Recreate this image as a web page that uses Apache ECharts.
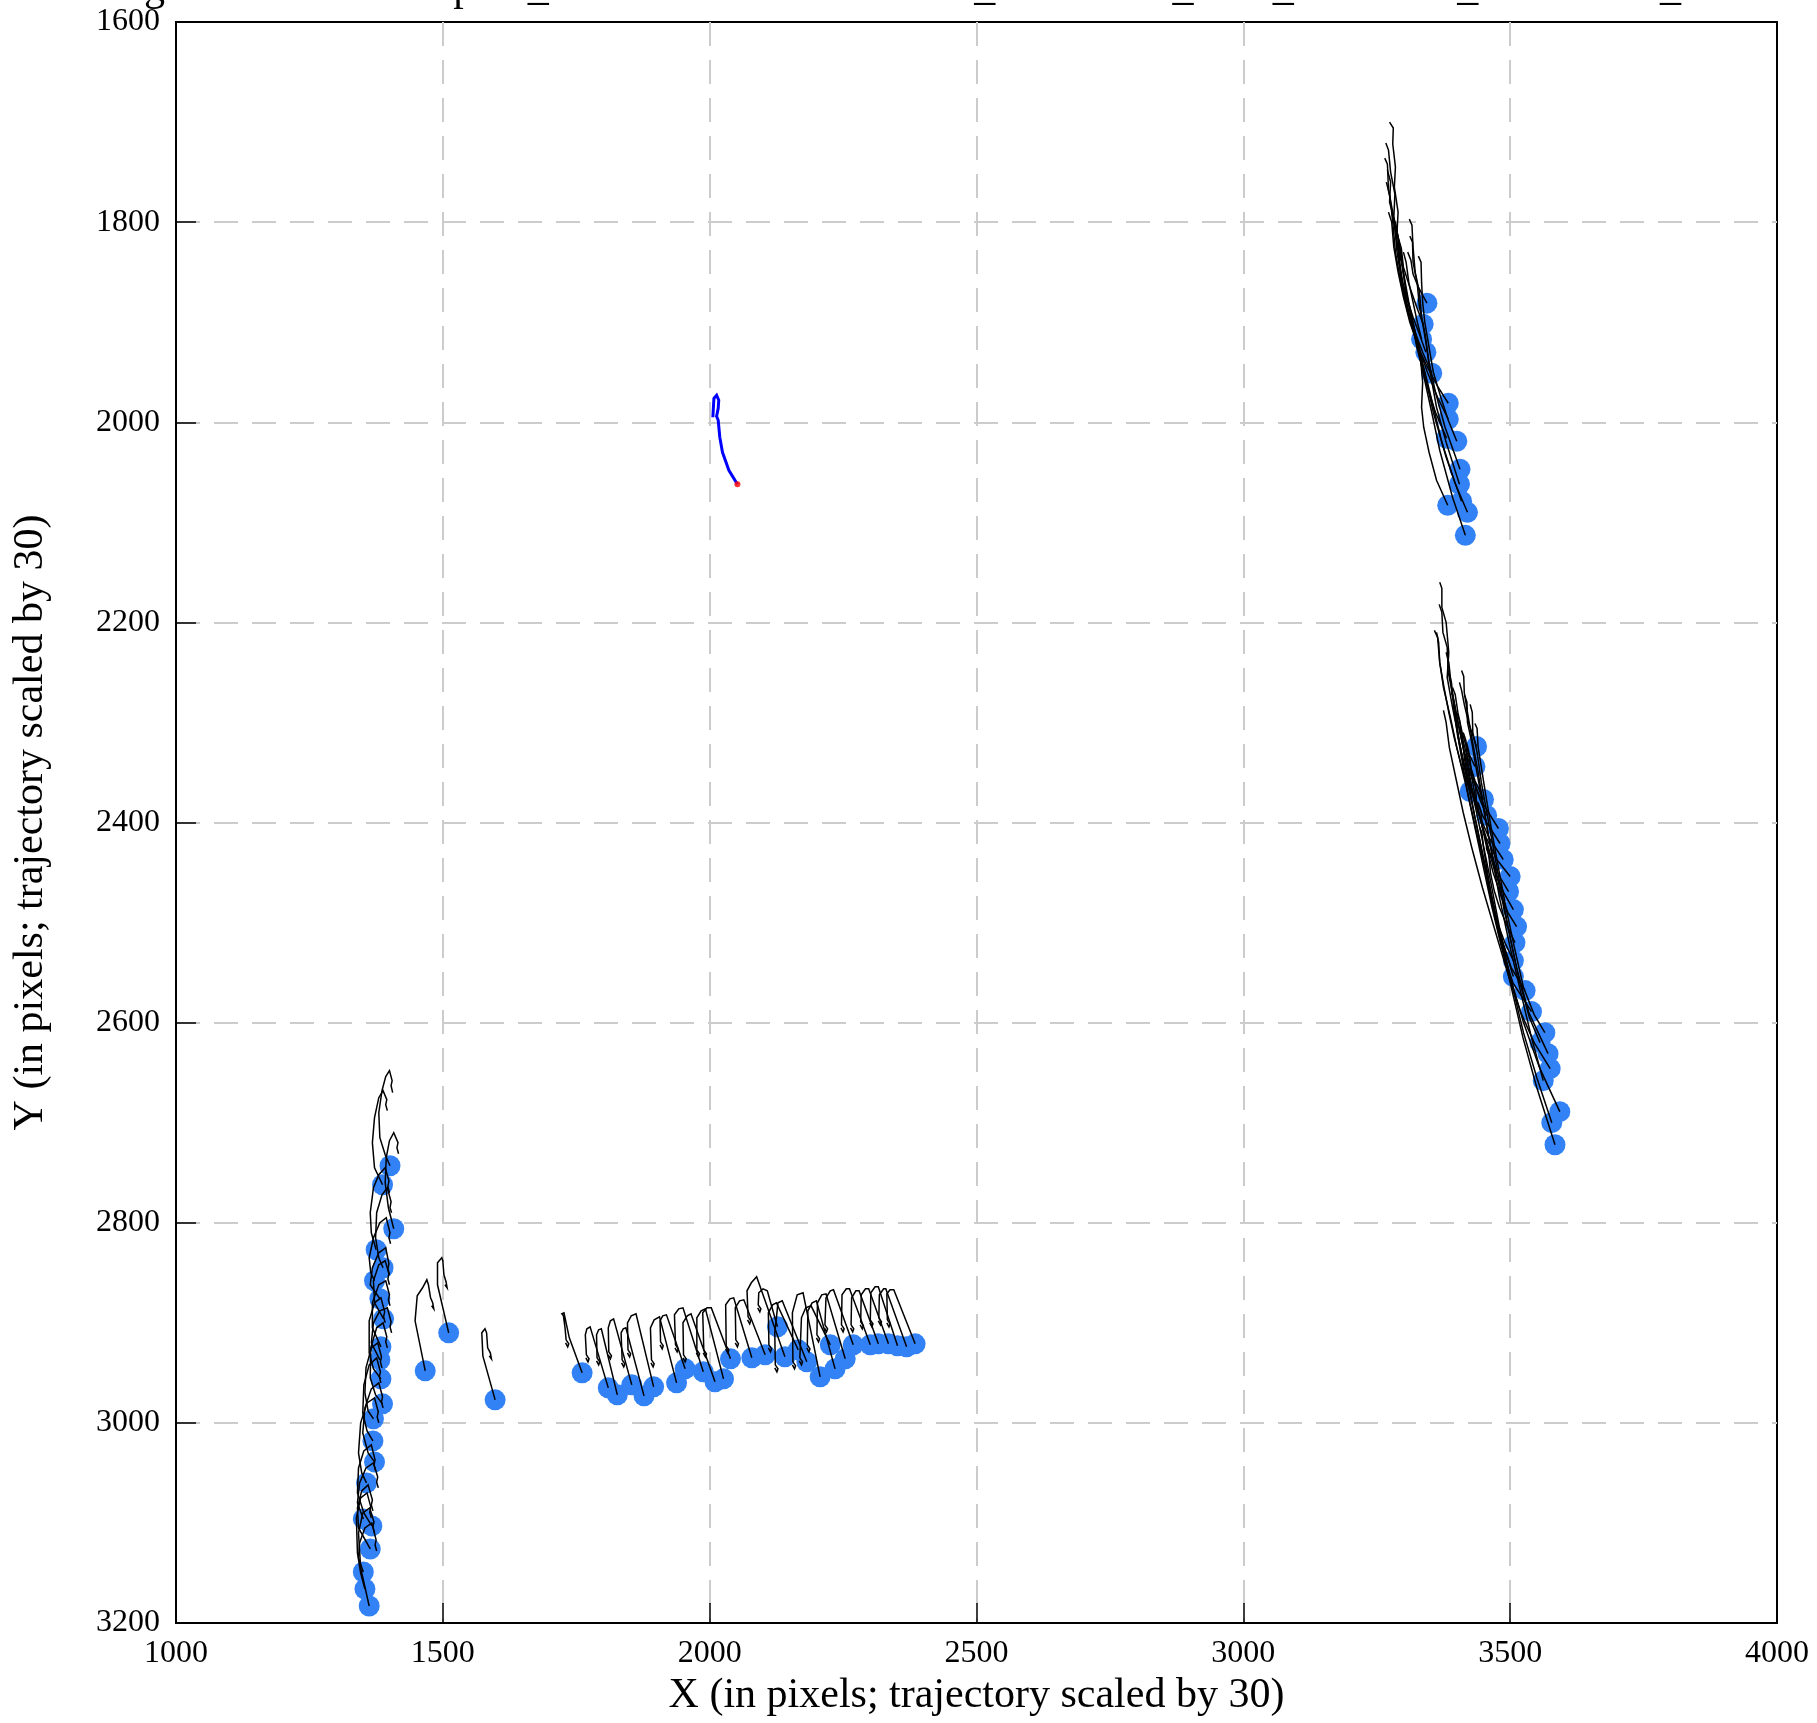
<!DOCTYPE html>
<html><head><meta charset="utf-8">
<script src="https://cdn.jsdelivr.net/npm/echarts@6/dist/echarts.min.js"></script>
<style>html,body{margin:0;padding:0;background:#fff}#c{width:1817px;height:1723px}</style>
</head><body><div id="c"></div>
<script>
const titleText = "Tracking results at time 0 pred_intersection1005Trackers_300frames_obs8_Stride100_frame1000_final";
const xLabel = "X (in pixels; trajectory scaled by 30)";
const yLabel = "Y (in pixels; trajectory scaled by 30)";
const xRange = [1000, 4000, 500];
const yRange = [1600, 3200, 200];

// upper-right group (each trajectory ends at its blue dot)
const trajA = [
 [[3274,1700],[3281,1706],[3280,1722],[3285,1745],[3283,1765],[3290,1790],[3288,1810],[3296,1835],[3305,1870],[3320,1910],[3337,1951],[3355,1995],[3368,2028],[3392,2075],[3416,2113]],
 [[3267,1721],[3272,1728],[3276,1750],[3284,1772],[3282,1795],[3292,1820],[3300,1850],[3310,1880],[3325,1918],[3345,1960],[3372,2020],[3396,2060],[3420,2090]],
 [[3265,1736],[3270,1742],[3272,1768],[3280,1790],[3286,1815],[3298,1845],[3305,1870],[3320,1905],[3335,1940],[3356,1990],[3380,2035],[3409,2079]],
 [[3270,1748],[3276,1760],[3274,1780],[3284,1800],[3290,1830],[3296,1860],[3310,1890],[3330,1925],[3336,1960],[3334,1985],[3338,2005],[3348,2030],[3362,2058],[3383,2083]],
 [[3311,1797],[3316,1803],[3318,1825],[3322,1850],[3330,1870],[3334,1895],[3342,1920],[3350,1950],[3362,1985],[3380,2020],[3405,2062]],
 [[3312,1814],[3317,1820],[3318,1840],[3326,1862],[3330,1885],[3340,1910],[3348,1940],[3360,1970],[3378,2005],[3406,2047]],
 [[3328,1834],[3333,1840],[3334,1860],[3336,1880],[3340,1900],[3348,1925],[3356,1950],[3370,1975],[3384,1998],[3400,2019]],
 [[3312,1898],[3318,1905],[3325,1925],[3335,1945],[3345,1965],[3360,1990],[3381,2016]],
 [[3268,1760],[3275,1775],[3280,1800],[3285,1830],[3295,1860],[3308,1890],[3325,1920],[3345,1950],[3364,1975],[3384,1997]],
 [[3272,1790],[3278,1800],[3282,1825],[3290,1850],[3300,1875],[3312,1900],[3328,1925],[3345,1945],[3365,1965],[3384,1981]],
 [[3285,1800],[3290,1815],[3293,1840],[3300,1865],[3310,1890],[3322,1910],[3336,1930],[3353,1951]],
 [[3278,1790],[3284,1805],[3288,1830],[3296,1855],[3306,1875],[3318,1895],[3330,1912],[3342,1930]],
 [[3300,1830],[3305,1840],[3310,1860],[3318,1880],[3326,1900],[3334,1917]],
 [[3290,1815],[3296,1826],[3300,1845],[3312,1865],[3325,1885],[3337,1902]],
 [[3308,1830],[3314,1838],[3318,1852],[3328,1865],[3344,1881]]
];

// right, lower group
const trajB = [
 [[3368,2160],[3372,2166],[3372,2185],[3380,2200],[3385,2230],[3382,2255],[3392,2285],[3405,2320],[3420,2360],[3440,2410],[3458,2460],[3478,2510],[3500,2560],[3524,2615],[3550,2665],[3584,2722]],
 [[3367,2182],[3372,2190],[3374,2210],[3382,2225],[3384,2250],[3395,2280],[3408,2315],[3425,2360],[3445,2410],[3462,2455],[3480,2505],[3500,2555],[3525,2610],[3550,2655],[3578,2700]],
 [[3358,2208],[3364,2215],[3368,2240],[3375,2265],[3388,2295],[3400,2325],[3418,2365],[3435,2405],[3455,2450],[3475,2500],[3498,2550],[3525,2600],[3555,2645],[3593,2689]],
 [[3409,2248],[3413,2254],[3414,2270],[3420,2290],[3428,2315],[3440,2350],[3452,2390],[3465,2430],[3480,2475],[3500,2525],[3520,2570],[3540,2615],[3562,2658]],
 [[3375,2288],[3380,2300],[3386,2325],[3398,2355],[3412,2390],[3428,2425],[3448,2465],[3470,2505],[3495,2550],[3520,2590],[3545,2620],[3575,2646]],
 [[3415,2273],[3419,2280],[3420,2300],[3428,2320],[3436,2345],[3448,2380],[3460,2415],[3476,2455],[3494,2500],[3512,2545],[3535,2590],[3571,2631]],
 [[3425,2282],[3429,2290],[3430,2310],[3438,2330],[3446,2360],[3458,2395],[3470,2430],[3484,2470],[3500,2515],[3518,2560],[3536,2595],[3556,2620]],
 [[3434,2301],[3438,2306],[3440,2325],[3446,2345],[3455,2375],[3466,2410],[3478,2445],[3492,2485],[3508,2525],[3525,2565],[3545,2592],[3565,2610]],
 [[3395,2290],[3400,2300],[3404,2320],[3412,2345],[3422,2375],[3436,2410],[3450,2445],[3466,2485],[3484,2525],[3505,2560],[3540,2589]],
 [[3405,2305],[3410,2312],[3414,2335],[3422,2360],[3434,2395],[3448,2430],[3464,2470],[3480,2510],[3502,2545],[3528,2568]],
 [[3443,2405],[3447,2410],[3450,2425],[3456,2445],[3464,2470],[3474,2495],[3486,2520],[3506,2554]],
 [[3450,2440],[3455,2447],[3458,2460],[3466,2480],[3476,2500],[3490,2520],[3506,2538]],
 [[3455,2425],[3460,2432],[3463,2450],[3470,2468],[3480,2485],[3494,2503],[3509,2520]],
 [[3440,2380],[3445,2388],[3448,2405],[3456,2425],[3468,2450],[3482,2472],[3496,2490],[3512,2504]],
 [[3430,2355],[3435,2362],[3437,2380],[3446,2400],[3458,2425],[3472,2450],[3488,2470],[3506,2487]],
 [[3420,2330],[3425,2338],[3428,2355],[3436,2378],[3448,2405],[3462,2430],[3478,2452],[3497,2469]],
 [[3412,2310],[3417,2318],[3420,2340],[3428,2365],[3440,2390],[3455,2415],[3475,2437],[3500,2454]],
 [[3390,2270],[3395,2280],[3400,2305],[3410,2335],[3425,2365],[3440,2390],[3460,2415],[3487,2437]],
 [[3385,2250],[3390,2260],[3394,2285],[3402,2315],[3415,2345],[3430,2370],[3450,2395],[3481,2421]],
 [[3380,2230],[3385,2240],[3390,2265],[3400,2295],[3412,2325],[3428,2355],[3450,2382],[3478,2406]],
 [[3418,2320],[3422,2328],[3426,2345],[3434,2362],[3444,2378],[3456,2393]],
 [[3400,2290],[3405,2298],[3410,2315],[3420,2335],[3434,2358],[3450,2377]],
 [[3362,2210],[3366,2220],[3368,2240],[3376,2265],[3385,2290],[3395,2315],[3408,2342],[3425,2369]],
 [[3392,2265],[3397,2272],[3402,2290],[3410,2310],[3420,2328],[3434,2344]],
 [[3405,2260],[3409,2268],[3414,2282],[3422,2300],[3437,2324]]
];

// left vertical group
const trajC = [
 [[1406,2670],[1403,2663],[1405,2658],[1400,2648],[1393,2654],[1386,2668],[1380,2690],[1382,2715],[1392,2732],[1401,2743]],
 [[1396,2688],[1393,2682],[1395,2677],[1388,2668],[1380,2675],[1372,2695],[1368,2720],[1372,2745],[1387,2762]],
 [[1417,2731],[1414,2725],[1416,2720],[1408,2710],[1400,2718],[1394,2735],[1392,2760],[1398,2785],[1408,2806]],
 [[1400,2770],[1397,2764],[1399,2758],[1392,2745],[1380,2752],[1370,2765],[1364,2790],[1366,2810],[1375,2827]],
 [[1404,2790],[1401,2785],[1403,2779],[1396,2765],[1386,2772],[1376,2790],[1374,2815],[1380,2835],[1388,2845]],
 [[1402,2821],[1399,2815],[1401,2810],[1394,2795],[1382,2800],[1370,2815],[1362,2835],[1365,2850],[1372,2858]],
 [[1400,2852],[1397,2846],[1399,2841],[1393,2825],[1380,2830],[1368,2845],[1364,2862],[1382,2876]],
 [[1400,2862],[1397,2856],[1399,2851],[1392,2838],[1380,2842],[1370,2858],[1372,2880],[1389,2896]],
 [[1401,2883],[1398,2877],[1400,2872],[1393,2858],[1380,2862],[1368,2880],[1368,2905],[1384,2924]],
 [[1404,2910],[1401,2904],[1403,2899],[1396,2885],[1382,2888],[1370,2900],[1366,2920],[1382,2937]],
 [[1392,2900],[1389,2894],[1391,2889],[1384,2875],[1372,2880],[1362,2898],[1362,2930],[1370,2946],[1384,2956]],
 [[1396,2925],[1393,2919],[1395,2914],[1388,2900],[1376,2905],[1365,2925],[1364,2955],[1374,2972],[1387,2981]],
 [[1386,2945],[1383,2939],[1385,2934],[1378,2920],[1366,2925],[1356,2945],[1354,2970],[1360,2988],[1370,2996]],
 [[1384,2960],[1381,2954],[1383,2949],[1376,2935],[1362,2942],[1352,2962],[1350,2990],[1358,3008],[1369,3018]],
 [[1388,2985],[1385,2979],[1387,2974],[1380,2960],[1366,2966],[1354,2985],[1350,3010],[1360,3030],[1372,3039]],
 [[1380,3000],[1377,2994],[1379,2989],[1372,2975],[1358,2980],[1346,3000],[1342,3030],[1348,3050],[1357,3060]],
 [[1379,3065],[1376,3059],[1378,3054],[1370,3040],[1356,3045],[1344,3060],[1340,3080],[1351,3096]],
 [[1374,3048],[1371,3042],[1373,3037],[1366,3022],[1352,3028],[1342,3045],[1340,3070],[1352,3090],[1367,3103]],
 [[1369,3088],[1366,3082],[1368,3077],[1360,3062],[1348,3068],[1340,3085],[1342,3105],[1364,3126]],
 [[1376,3128],[1373,3122],[1375,3117],[1367,3100],[1354,3105],[1344,3120],[1342,3135],[1351,3149]],
 [[1366,3095],[1363,3089],[1365,3084],[1358,3070],[1346,3075],[1338,3095],[1340,3130],[1346,3150],[1354,3166]],
 [[1372,3110],[1369,3104],[1371,3099],[1363,3085],[1350,3090],[1342,3110],[1346,3145],[1362,3183]]
];

// three isolated tracks
const trajM = [
 [[1479,2883],[1483,2886],[1481,2880],[1477,2875],[1473,2862],[1470,2857],[1462,2865],[1452,2873],[1448,2898],[1467,2948]],
 [[1504,2862],[1508,2865],[1506,2859],[1502,2852],[1500,2838],[1498,2835],[1490,2840],[1490,2862],[1511,2910]],
 [[1587,2933],[1591,2936],[1589,2930],[1584,2925],[1582,2910],[1579,2906],[1573,2910],[1575,2933],[1598,2977]]
];

// bottom horizontal group
const trajD = [
 [[1730,2920],[1734,2924],[1736,2921],[1731,2917],[1729,2905],[1726,2893],[1723,2891],[1727,2890],[1737,2915],[1761,2950]],
 [[1768,2935],[1772,2939],[1774,2936],[1769,2932],[1767,2912],[1770,2906],[1776,2904],[1810,2965]],
 [[1788,2938],[1792,2942],[1794,2939],[1789,2935],[1788,2912],[1792,2907],[1797,2906],[1827,2972]],
 [[1810,2932],[1814,2936],[1816,2933],[1811,2929],[1810,2905],[1814,2898],[1820,2896],[1854,2962]],
 [[1835,2940],[1839,2944],[1841,2941],[1836,2937],[1834,2910],[1838,2906],[1843,2905],[1877,2973]],
 [[1846,2930],[1850,2934],[1852,2931],[1847,2927],[1846,2900],[1853,2893],[1862,2891],[1895,2964]],
 [[1890,2940],[1894,2944],[1896,2941],[1891,2937],[1889,2905],[1896,2897],[1906,2894],[1938,2960]],
 [[1907,2922],[1911,2926],[1913,2923],[1908,2919],[1907,2898],[1912,2893],[1919,2892],[1954,2946]],
 [[1935,2925],[1939,2929],[1941,2926],[1936,2922],[1934,2892],[1942,2886],[1950,2885],[1988,2949]],
 [[1950,2935],[1954,2939],[1956,2936],[1951,2932],[1950,2900],[1958,2893],[1965,2891],[2010,2959]],
 [[1975,2930],[1979,2934],[1981,2931],[1976,2927],[1976,2895],[1984,2888],[1992,2886],[2026,2956]],
 [[1988,2930],[1992,2934],[1994,2931],[1989,2927],[1987,2890],[1995,2885],[2003,2885],[2039,2936]],
 [[2030,2926],[2034,2930],[2036,2927],[2031,2923],[2030,2882],[2038,2876],[2045,2875],[2079,2935]],
 [[2048,2920],[2052,2924],[2054,2921],[2049,2917],[2048,2885],[2056,2878],[2064,2877],[2104,2932]],
 [[2090,2885],[2094,2889],[2096,2886],[2091,2882],[2092,2870],[2100,2866],[2108,2868],[2127,2904]],
 [[2071,2897],[2075,2901],[2077,2898],[2072,2894],[2070,2868],[2078,2860],[2088,2854],[2141,2934]],
 [[2110,2925],[2114,2929],[2116,2926],[2111,2922],[2110,2890],[2118,2882],[2125,2880],[2166,2927]],
 [[2122,2945],[2126,2949],[2128,2946],[2123,2942],[2122,2910],[2128,2880],[2136,2878],[2182,2939]],
 [[2155,2942],[2159,2946],[2161,2943],[2156,2939],[2155,2890],[2164,2872],[2175,2870],[2207,2954]],
 [[2168,2938],[2172,2942],[2174,2939],[2169,2935],[2172,2895],[2180,2885],[2190,2883],[2226,2922]],
 [[2182,2925],[2186,2929],[2188,2926],[2183,2922],[2184,2888],[2192,2880],[2200,2878],[2235,2946]],
 [[2200,2915],[2204,2919],[2206,2916],[2201,2912],[2202,2880],[2210,2872],[2218,2871],[2254,2936]],
 [[2215,2905],[2219,2909],[2221,2906],[2216,2902],[2218,2875],[2226,2868],[2232,2867],[2269,2922]],
 [[2246,2905],[2250,2909],[2252,2906],[2247,2902],[2248,2872],[2256,2866],[2262,2866],[2301,2922]],
 [[2264,2905],[2268,2909],[2270,2906],[2265,2902],[2266,2875],[2274,2868],[2280,2868],[2316,2921]],
 [[2282,2902],[2286,2906],[2288,2903],[2283,2899],[2284,2872],[2292,2866],[2298,2866],[2335,2921]],
 [[2300,2900],[2304,2904],[2306,2901],[2301,2897],[2302,2870],[2310,2864],[2316,2864],[2352,2923]],
 [[2316,2898],[2320,2902],[2322,2899],[2317,2895],[2318,2872],[2326,2866],[2330,2866],[2369,2924]],
 [[2332,2900],[2336,2904],[2338,2901],[2333,2897],[2332,2871],[2338,2867],[2345,2867],[2385,2921]]
];

// highlighted (blue) trajectory and its end point (red)
const trajBlue = [[2006,1995],[2007,1985],[2008,1976],[2013,1973],[2017,1978],[2016,1986],[2013,1994],[2016,1998],[2019,2015],[2024,2030],[2036,2048],[2052,2062]];
const redPoint = [[2052,2062]];

const allTraj = [].concat(trajA, trajB, trajC, trajM, trajD);
const dots = allTraj.map(t => t[t.length - 1]);

const FONT = "'Liberation Serif', 'Times New Roman', serif";
const plain = v => String(v);
const chart = echarts.init(document.getElementById('c'), null, {renderer: 'canvas'});
chart.setOption({
  animation: false,
  backgroundColor: '#ffffff',
  title: {
    text: titleText, left: 10, top: -37,
    textStyle: {fontFamily: FONT, fontSize: 42, fontWeight: 'normal', color: '#000', lineHeight: 42}
  },
  grid: {left: 176, top: 22, right: 40, bottom: 100, show: true, borderColor: '#000', borderWidth: 2, backgroundColor: 'transparent'},
  xAxis: {
    type: 'value', min: xRange[0], max: xRange[1], interval: xRange[2],
    name: xLabel, nameLocation: 'middle', nameGap: 48,
    nameTextStyle: {fontFamily: FONT, fontSize: 42, color: '#000'},
    axisLine: {show: true, lineStyle: {color: '#000', width: 2}},
    axisTick: {show: true, inside: true, length: 20, lineStyle: {color: '#000', width: 1.5}},
    axisLabel: {fontFamily: FONT, fontSize: 32, color: '#000', margin: 15, formatter: plain},
    splitLine: {show: true, showMinLine: false, showMaxLine: false, lineStyle: {color: '#cccccc', width: 2, type: [24, 14]}}
  },
  yAxis: {
    type: 'value', inverse: true, min: yRange[0], max: yRange[1], interval: yRange[2],
    name: yLabel, nameLocation: 'middle', nameGap: 124,
    nameTextStyle: {fontFamily: FONT, fontSize: 42, color: '#000'},
    axisLine: {show: true, lineStyle: {color: '#000', width: 2}},
    axisTick: {show: true, inside: true, length: 20, lineStyle: {color: '#000', width: 1.5}},
    axisLabel: {fontFamily: FONT, fontSize: 32, color: '#000', margin: 16, formatter: plain},
    splitLine: {show: true, showMinLine: false, showMaxLine: false, lineStyle: {color: '#cccccc', width: 2, type: [24, 14]}}
  },
  series: [
    {type: 'scatter', data: dots, symbol: 'circle', symbolSize: 21, itemStyle: {color: '#3382f5', opacity: 1}, z: 2, silent: true},
    {type: 'lines', coordinateSystem: 'cartesian2d', polyline: true,
     data: allTraj.map(c => ({coords: c})),
     lineStyle: {color: '#000', width: 1.5, opacity: 1}, z: 3, silent: true},
    {type: 'lines', coordinateSystem: 'cartesian2d', polyline: true,
     data: [{coords: trajBlue}],
     lineStyle: {color: '#0000ff', width: 3, opacity: 1}, z: 4, silent: true},
    {type: 'scatter', data: redPoint, symbolSize: 6, itemStyle: {color: '#ff0000'}, z: 5, silent: true}
  ]
});
</script></body></html>
